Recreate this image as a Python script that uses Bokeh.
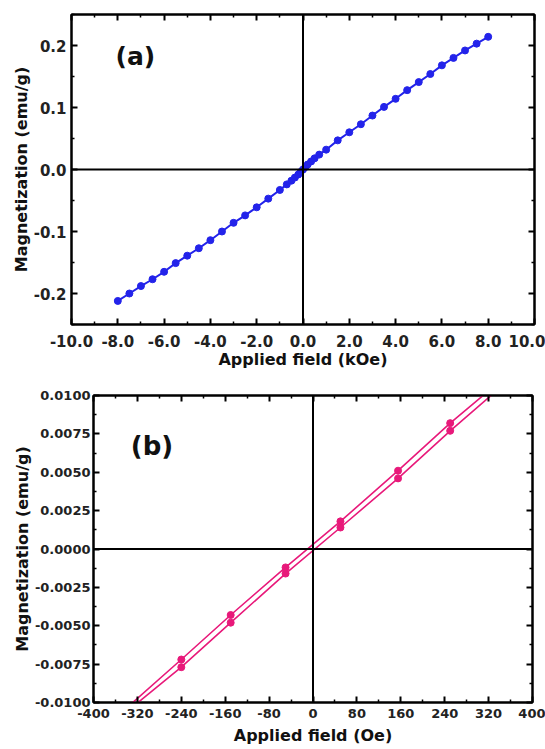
from bokeh.plotting import figure
from bokeh.layouts import column
from bokeh.models import (Range1d, LinearAxis, FixedTicker, NumeralTickFormatter, Span, Label,
                          CustomLabelingPolicy)
from bokeh.embed import file_html
from bokeh.resources import INLINE

# ---------------- data: panel (a) ----------------
field_a = [-8.0, -7.5, -7.0, -6.5, -6.0, -5.5, -5.0, -4.5, -4.0, -3.5, -3.0, -2.5, -2.0,
           -1.5, -1.0, -0.7, -0.5, -0.35, -0.2, -0.1, 0.0, 0.1, 0.2, 0.35, 0.5, 0.7, 1.0,
           1.5, 2.0, 2.5, 3.0, 3.5, 4.0, 4.5, 5.0, 5.5, 6.0, 6.5, 7.0, 7.5, 8.0]
mag_a = [-0.212, -0.200, -0.188, -0.177, -0.165, -0.151, -0.139, -0.127, -0.114, -0.100,
         -0.086, -0.074, -0.061, -0.047, -0.033, -0.024, -0.018, -0.013, -0.008, -0.004,
         0.000, 0.004, 0.008, 0.013, 0.018, 0.024, 0.032, 0.047, 0.060, 0.073, 0.087,
         0.101, 0.114, 0.128, 0.141, 0.154, 0.168, 0.180, 0.192, 0.203, 0.214]

x_ticks_a = [-10, -8, -6, -4, -2, 0, 2, 4, 6, 8, 10]
x_minor_a = [-9, -7, -5, -3, -1, 1, 3, 5, 7, 9]
y_ticks_a = [-0.2, -0.1, 0.0, 0.1, 0.2]
y_minor_a = [-0.25, -0.15, -0.05, 0.05, 0.15, 0.25]

# ---------------- data: panel (b) ----------------
field_b_upper = [-360, -240, -150, -50, 50, 155, 250, 360]
mag_b_upper = [-0.0110, -0.0072, -0.0043, -0.0012, 0.0018, 0.0051, 0.0082, 0.0115]
field_b_lower = [-360, -240, -150, -50, 50, 155, 250, 360]
mag_b_lower = [-0.0112, -0.0077, -0.0048, -0.0016, 0.0014, 0.0046, 0.0077, 0.0111]

x_ticks_b = [-400, -320, -240, -160, -80, 0, 80, 160, 240, 320, 400]
x_minor_b = [-360, -280, -200, -120, -40, 40, 120, 200, 280, 360]
y_ticks_b = [-0.01, -0.0075, -0.005, -0.0025, 0.0, 0.0025, 0.005, 0.0075, 0.01]
y_minor_b = [-0.00875, -0.00625, -0.00375, -0.00125, 0.00125, 0.00375, 0.00625, 0.00875]

FONT = "DejaVu Sans"
BLUE = "#2323ea"
PINK = "#e8197a"


def style_axis(ax, tick_font, show_labels=True, label_standoff=4, title_standoff=2):
    ax.axis_line_color = "black"
    ax.axis_line_width = 2
    ax.major_tick_line_color = "black"
    ax.major_tick_line_width = 2
    ax.minor_tick_line_color = "black"
    ax.minor_tick_line_width = 1.5
    ax.major_tick_in = 6
    ax.major_tick_out = 0
    ax.minor_tick_in = 3
    ax.minor_tick_out = 0
    ax.major_label_text_font = FONT
    ax.major_label_text_font_style = "bold"
    ax.major_label_text_color = "#222222"
    if show_labels:
        ax.major_label_text_font_size = tick_font
        ax.major_label_standoff = label_standoff
    else:
        ax.major_label_text_font_size = "0px"
        ax.major_label_standoff = 0
        ax.major_label_policy = CustomLabelingPolicy(code="return []")
    ax.axis_label_text_font = FONT
    ax.axis_label_text_font_style = "bold"
    ax.axis_label_text_font_size = "16px"
    ax.axis_label_text_color = "#111111"
    ax.axis_label_standoff = title_standoff


def make_panel(width, height, xr, yr, xt, xm, yt, ym, xfmt, yfmt, tick_font,
               left, right, top, bottom, xlabel, ylabel, xs_lab, ys_lab, xt_so, yt_so):
    p = figure(width=width, height=height, output_backend="svg", toolbar_location=None,
               x_range=Range1d(*xr), y_range=Range1d(*yr),
               min_border_left=left, min_border_right=right,
               min_border_top=top, min_border_bottom=bottom,
               x_axis_location=None, y_axis_location=None)
    p.xgrid.visible = False
    p.ygrid.visible = False
    p.outline_line_color = "black"
    p.outline_line_width = 2
    p.background_fill_color = "white"
    p.border_fill_color = "white"

    xticker = FixedTicker(ticks=xt, minor_ticks=xm)
    yticker = FixedTicker(ticks=yt, minor_ticks=ym)

    xb = LinearAxis(ticker=xticker, formatter=NumeralTickFormatter(format=xfmt), axis_label=xlabel)
    style_axis(xb, tick_font, True, xs_lab, xt_so)
    p.add_layout(xb, "below")
    yl = LinearAxis(ticker=yticker, formatter=NumeralTickFormatter(format=yfmt), axis_label=ylabel)
    style_axis(yl, tick_font, True, ys_lab, yt_so)
    p.add_layout(yl, "left")
    xa = LinearAxis(ticker=xticker)
    style_axis(xa, tick_font, False)
    p.add_layout(xa, "above")
    yr_ax = LinearAxis(ticker=yticker)
    style_axis(yr_ax, tick_font, False)
    p.add_layout(yr_ax, "right")

    p.add_layout(Span(location=0, dimension="height", line_color="black", line_width=2))
    p.add_layout(Span(location=0, dimension="width", line_color="black", line_width=2))
    return p


# ---------------- panel (a) ----------------
pa = make_panel(545, 371, (-10, 10), (-0.25, 0.25), x_ticks_a, x_minor_a, y_ticks_a, y_minor_a,
                "0.0", "0.0", "15px", 71, 11, 14, 47,
                "Applied field (kOe)", "Magnetization (emu/g)", 10, 5, 0, 0)
pa.line(field_a, mag_a, line_color=BLUE, line_width=2)
pa.scatter(field_a, mag_a, size=7, fill_color=BLUE, line_color=BLUE)
pa.add_layout(Label(x=-8.1, y=0.182, text="(a)", text_font=FONT, text_font_style="bold",
                    text_font_size="25px", text_baseline="middle", text_color="#111111"))

# ---------------- panel (b) ----------------
pb = make_panel(545, 376, (-400, 400), (-0.01, 0.01), x_ticks_b, x_minor_b, y_ticks_b, y_minor_b,
                "0", "0.0000", "13px", 93, 13, 24, 42,
                "Applied field (Oe)", "Magnetization (emu/g)", 6, 3, 5, 0)
pb.line(field_b_upper, mag_b_upper, line_color=PINK, line_width=1.6)
pb.line(field_b_lower, mag_b_lower, line_color=PINK, line_width=1.6)
pb.scatter(field_b_upper, mag_b_upper, size=7, fill_color=PINK, line_color=PINK)
pb.scatter(field_b_lower, mag_b_lower, size=7, fill_color=PINK, line_color=PINK)
pb.add_layout(Label(x=-332, y=0.0067, text="(b)", text_font=FONT, text_font_style="bold",
                    text_font_size="26px", text_baseline="middle", text_color="#111111"))

layout = column(column(pa), column(pb), spacing=0)
open("out.html", "w").write(file_html(layout, INLINE))
